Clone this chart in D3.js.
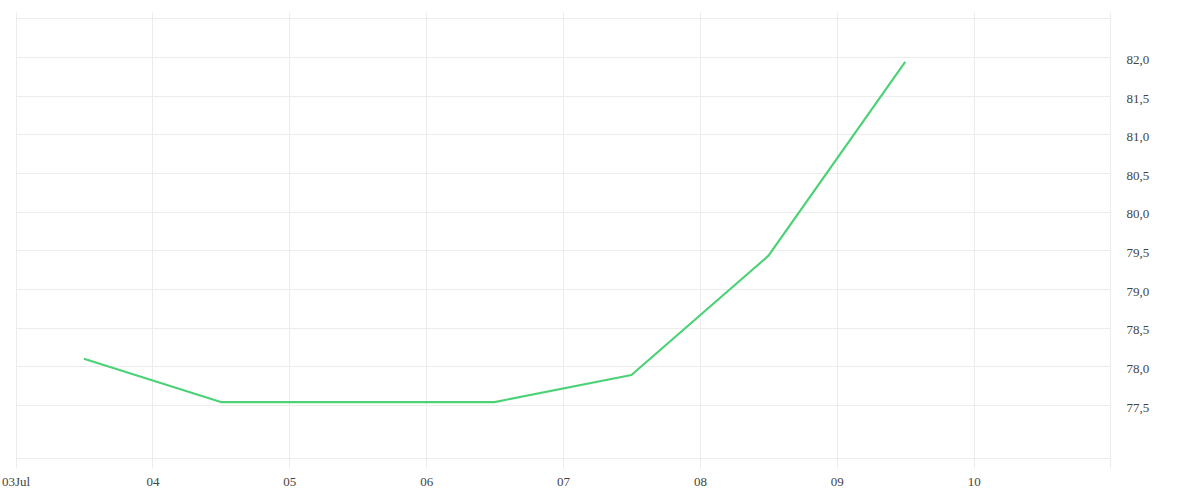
<!DOCTYPE html>
<html>
<head>
<meta charset="utf-8">
<script src="https://cdn.jsdelivr.net/npm/d3@7"></script>
<style>
  body { margin: 0; background: #fff; }
  text { font-family: "Liberation Serif", serif; font-size: 13px; fill: #444; }
</style>
</head>
<body>
<div id="chart"></div>
<script>
// data
const dates = ["2024-07-03T12:00", "2024-07-04T12:00", "2024-07-05T12:00", "2024-07-06T12:00",
               "2024-07-07T12:00", "2024-07-08T12:00", "2024-07-09T12:00"];
const values = [78.10, 77.54, 77.54, 77.54, 77.89, 79.43, 81.94];
const yTicks = [77.5, 78.0, 78.5, 79.0, 79.5, 80.0, 80.5, 81.0, 81.5, 82.0];
const xTickDays = ["2024-07-03", "2024-07-04", "2024-07-05", "2024-07-06",
                   "2024-07-07", "2024-07-08", "2024-07-09", "2024-07-10"];

const WIDTH = 1200;
const HEIGHT = 500;
const LEFT = 15.5;
const RIGHT = 1110.5;
const TOP = 18.5;
const BOTTOM = 458.5;
const GRID = "#ececec";

const parse = d3.timeParse("%Y-%m-%dT%H:%M");
const parseDay = d3.timeParse("%Y-%m-%d");
const data = dates.map((d, i) => ({ x: parse(d), y: values[i] }));

const svg = d3.select("#chart")
    .append("svg")
    .attr("width", WIDTH)
    .attr("height", HEIGHT);

const xScale = d3.scaleTime()
    .domain([parseDay("2024-07-03"), parseDay("2024-07-11")])
    .range([LEFT, RIGHT]);

const yScale = d3.scaleLinear()
    .domain([76.81, 82.5])
    .range([BOTTOM, TOP]);

const locale = d3.formatLocale({ decimal: ",", thousands: ".", grouping: [3], currency: ["", "€"] });
const yFmt = locale.format(".1f");

// horizontal grid
svg.append("g")
    .selectAll("line")
    .data(yTicks)
    .join("line")
    .attr("x1", LEFT)
    .attr("x2", RIGHT)
    .attr("y1", d => Math.round(yScale(d)) + 0.5)
    .attr("y2", d => Math.round(yScale(d)) + 0.5)
    .attr("stroke", GRID);

// frame top / bottom
svg.append("line")
    .attr("x1", LEFT).attr("x2", RIGHT)
    .attr("y1", TOP).attr("y2", TOP)
    .attr("stroke", GRID);
svg.append("line")
    .attr("x1", LEFT).attr("x2", RIGHT)
    .attr("y1", BOTTOM).attr("y2", BOTTOM)
    .attr("stroke", GRID);

// vertical grid (extends past frame like ticks)
const xTicks = xTickDays.map(parseDay);
svg.append("g")
    .selectAll("line")
    .data(xTicks)
    .join("line")
    .attr("x1", d => Math.round(xScale(d)) + 0.5)
    .attr("x2", d => Math.round(xScale(d)) + 0.5)
    .attr("y1", TOP - 6)
    .attr("y2", BOTTOM + 10)
    .attr("stroke", GRID);

svg.append("line")
    .attr("x1", RIGHT).attr("x2", RIGHT)
    .attr("y1", TOP - 6).attr("y2", BOTTOM + 10)
    .attr("stroke", GRID);

// x labels
const xAxis = d3.axisBottom(xScale)
    .tickValues(xTicks)
    .tickSize(0)
    .tickPadding(0)
    .tickFormat((d, i) => i === 0 ? d3.timeFormat("%d%b")(d) : d3.timeFormat("%d")(d));

svg.append("g")
    .attr("transform", `translate(0, ${BOTTOM + 18})`)
    .call(xAxis)
    .call(g => g.select(".domain").remove())
    .call(g => g.selectAll("text").attr("fill", "#444").style("font-size", "13px"));

// y labels on right
const yAxis = d3.axisRight(yScale)
    .tickValues(yTicks)
    .tickSize(0)
    .tickPadding(0)
    .tickFormat(yFmt);

svg.append("g")
    .attr("transform", `translate(${RIGHT + 16}, 2)`)
    .call(yAxis)
    .call(g => g.select(".domain").remove())
    .call(g => g.selectAll("text").attr("fill", "#444").style("font-size", "13px"));

// line
const line = d3.line()
    .x(d => xScale(d.x))
    .y(d => yScale(d.y));

svg.append("path")
    .datum(data)
    .attr("fill", "none")
    .attr("stroke", "#4cd276")
    .attr("stroke-width", 2.2)
    .attr("stroke-linejoin", "round")
    .attr("d", line);
</script>
</body>
</html>
